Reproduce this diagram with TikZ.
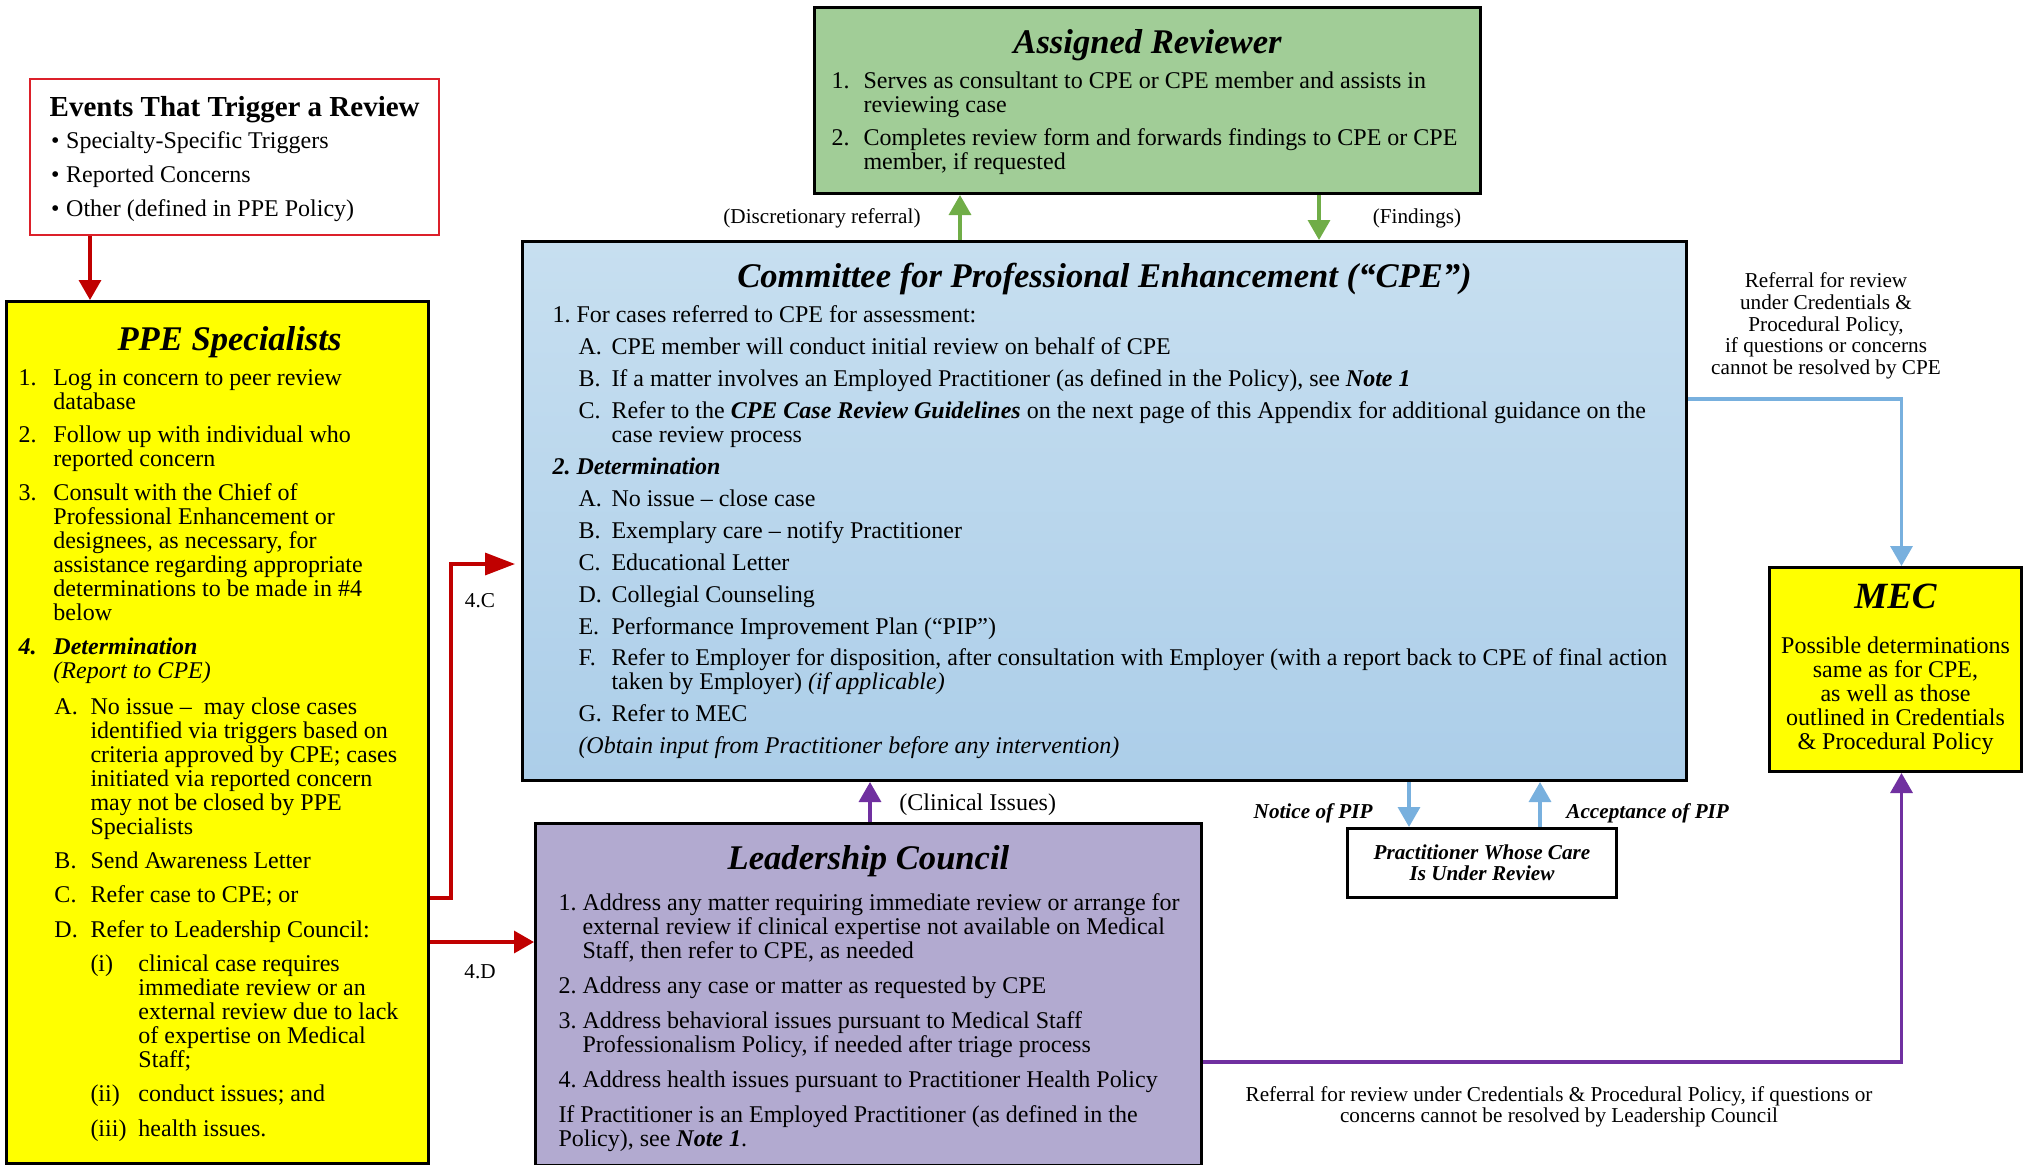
\documentclass[tikz,border=0pt]{standalone}
\usepackage{fontspec}
\setmainfont{Liberation Serif}
\usepackage{enumitem}
\usepackage{tikz}
\usetikzlibrary{arrows.meta}
\definecolor{ppeyellow}{RGB}{255,255,0}
\definecolor{revgreen}{RGB}{161,205,151}
\definecolor{cpetop}{RGB}{199,223,240}
\definecolor{cpebot}{RGB}{172,206,233}
\definecolor{lcpurple}{RGB}{178,170,208}
\definecolor{trigred}{RGB}{220,32,42}
\definecolor{arrred}{RGB}{192,0,0}
\definecolor{arrgreen}{RGB}{112,173,71}
\definecolor{arrblue}{RGB}{120,176,222}
\definecolor{arrpurple}{RGB}{112,48,160}
\newcommand{\bodyfont}{\fontsize{12}{12}\selectfont}
\newcommand{\smallfont}{\fontsize{10.6}{10.8}\selectfont}
\newcommand{\titlefont}{\fontsize{17.3}{18}\selectfont\bfseries\itshape}
\newcommand{\lineht}[1]{\rule{0pt}{#1}}
\newcommand{\bi}[1]{\textbf{\textit{#1}}}
\tikzstyle{panel} = [draw=black, line width=1.5pt, rectangle, inner sep=0pt, anchor=north west]
\tikzstyle{triggerbox} = [draw=trigred, line width=1.2pt, fill=white, rectangle, inner sep=0pt, anchor=north west]
\tikzstyle{flow} = [line width=1.7pt, -{Triangle[length=10pt,width=11pt]}]
\tikzstyle{lbl} = [font=\smallfont, inner sep=0pt, align=center]
\setlist{topsep=0pt, partopsep=0pt, parsep=0pt, labelsep=0pt, align=left}

\begin{document}
\begin{tikzpicture}[x=0.5pt,y=-0.5pt]
\useasboundingbox (0,0) rectangle (2023,1164);

                \node [triggerbox] (events) at (29,78) {%
                    \begin{minipage}[t][78pt][t]{204.5pt}\bodyfont\raggedright
                        {\centering\fontsize{14.5}{15}\selectfont\bfseries\lineht{18.8pt}Events That Trigger a Review\par}
                        \vspace{3.9pt}
                        \begin{itemize}[label=\textbullet, leftmargin=18pt, labelwidth=7.5pt, itemsep=5pt]
                            \item Specialty-Specific Triggers
                            \item Reported Concerns
                            \item Other (defined in PPE Policy)
                        \end{itemize}
                    \end{minipage}
                };

                \node [panel, fill=ppeyellow] (ppe) at (5,300) {%
                    \begin{minipage}[t][431pt][t]{211pt}\bodyfont\raggedright
                        {\centering\titlefont\hspace*{12pt}\lineht{24.7pt}PPE Specialists\par}
                        \vspace{5.2pt}
                        \begin{enumerate}[label=\arabic*., leftmargin=23.5pt, labelwidth=17.5pt, itemsep=4.8pt]
                            \item Log in concern to peer review\\ database
                            \item Follow up with individual who\\ reported concern
                            \item Consult with the Chief of\\ Professional Enhancement or\\ designees, as necessary, for\\ assistance regarding appropriate\\ determinations to be made in \#4\\ below
                            \item[\bi{4.}] \bi{Determination}\\ \textit{(Report to CPE)}
                            \begin{enumerate}[label=\Alph*., leftmargin=18.5pt, labelwidth=18pt, itemsep=5.2pt, topsep=6pt]
                                \item No issue --\ \ may close cases\\ identified via triggers based on\\ criteria approved by CPE; cases\\ initiated via reported concern\\ may not be closed by PPE\\ Specialists
                                \item Send Awareness Letter
                                \item Refer case to CPE; or
                                \item Refer to Leadership Council:
                                \begin{enumerate}[label=(\roman*), leftmargin=24pt, labelwidth=24pt, itemsep=5.3pt, topsep=5pt]
                                    \item clinical case requires\\ immediate review or an\\ external review due to lack\\ of expertise on Medical\\ Staff;
                                    \item conduct issues; and
                                    \item health issues.
                                \end{enumerate}
                            \end{enumerate}
                        \end{enumerate}
                    \end{minipage}
                };

                \node [panel, fill=revgreen] (ar) at (813,6) {%
                    \begin{minipage}[t][93pt][t]{333pt}\bodyfont\raggedright
                        {\centering\titlefont\lineht{23.2pt}Assigned Reviewer\par}
                        \vspace{4.5pt}
                        \begin{enumerate}[label=\arabic*., leftmargin=24.5pt, labelwidth=16pt, itemsep=4.3pt]
                            \item Serves as consultant to CPE or CPE member and assists in\\ reviewing case
                            \item Completes review form and forwards findings to CPE or CPE\\ member, if requested
                        \end{enumerate}
                    \end{minipage}
                };

                \node [panel, top color=cpetop, bottom color=cpebot] (cpe) at (521,240) {%
                    \begin{minipage}[t][269.5pt][t]{582pt}\bodyfont\raggedright
                        {\centering\titlefont\lineht{23.2pt}Committee for Professional Enhancement (“CPE”)\par}
                        \vspace{4.4pt}
                        \begin{enumerate}[label=\arabic*., leftmargin=27pt, labelwidth=12pt, itemsep=3.95pt]
                            \item For cases referred to CPE for assessment:
                            \begin{enumerate}[label=\Alph*., leftmargin=17.5pt, labelwidth=16.5pt, itemsep=3.95pt, topsep=3.95pt]
                                \item CPE member will conduct initial review on behalf of CPE
                                \item If a matter involves an Employed Practitioner (as defined in the Policy), see \bi{Note 1}
                                \item Refer to the \bi{CPE Case Review Guidelines} on the next page of this Appendix for additional guidance on the\\ case review process
                            \end{enumerate}
                            \item[\bi{2.}] \bi{Determination}
                            \begin{enumerate}[label=\Alph*., leftmargin=17.5pt, labelwidth=16.5pt, itemsep=3.95pt, topsep=3.95pt]
                                \item No issue -- close case
                                \item Exemplary care -- notify Practitioner
                                \item Educational Letter
                                \item Collegial Counseling
                                \item Performance Improvement Plan (“PIP”)
                                \item Refer to Employer for disposition, after consultation with Employer (with a report back to CPE of final action\\ taken by Employer) \textit{(if applicable)}
                                \item Refer to MEC
                            \end{enumerate}
                            \hspace*{1pt}\textit{(Obtain input from Practitioner before any intervention)}
                        \end{enumerate}
                    \end{minipage}
                };

                \node [panel, fill=lcpurple] (lc) at (534,822) {%
                    \begin{minipage}[t][171pt][t]{333pt}\bodyfont\raggedright
                        {\centering\titlefont\lineht{23.2pt}Leadership Council\par}
                        \vspace{7.4pt}
                        \begin{enumerate}[label=\arabic*., leftmargin=23.5pt, labelwidth=12pt, itemsep=5.5pt]
                            \item Address any matter requiring immediate review or arrange for\\ external review if clinical expertise not available on Medical\\ Staff, then refer to CPE, as needed
                            \item Address any case or matter as requested by CPE
                            \item Address behavioral issues pursuant to Medical Staff\\ Professionalism Policy, if needed after triage process
                            \item Address health issues pursuant to Practitioner Health Policy
                        \end{enumerate}
                        \vspace{5.5pt}
                        {\leftskip=11.5pt If Practitioner is an Employed Practitioner (as defined in the\\ Policy), see \bi{Note 1}.\par}
                    \end{minipage}
                };

                \node [panel, fill=ppeyellow] (mec) at (1768,566) {%
                    \begin{minipage}[t][102pt][t]{126pt}\bodyfont\centering
                        {\fontsize{18.5}{19}\selectfont\bfseries\itshape\lineht{20.7pt}MEC\par}
                        \vspace{10.3pt}
                        Possible determinations\\ same as for CPE,\\ as well as those\\ outlined in Credentials\\ \& Procedural Policy
                    \end{minipage}
                };

                \node [draw=black, line width=1.5pt, fill=white, anchor=north west, inner sep=0pt,
                    minimum width=134.5pt, minimum height=34.5pt, align=center,
                    font=\fontsize{10.6}{10.6}\selectfont\bfseries\itshape] (prac) at (1346,827)
                    {Practitioner Whose Care\\ Is Under Review};

                \node [lbl] (discl) at (822,218) {(Discretionary referral)};
                \node [lbl] (findl) at (1417,218) {(Findings)};
                \node [lbl] (c4l) at (480,601) {4.C};
                \node [lbl] (d4l) at (480,972) {4.D};
                \node [lbl, font=\bodyfont, anchor=west] (clinl) at (899,805) {(Clinical Issues)};
                \node [lbl, font=\smallfont\bfseries\itshape, anchor=east] (notl) at (1373,813) {Notice of PIP};
                \node [lbl, font=\smallfont\bfseries\itshape, anchor=west] (accl) at (1566,813) {Acceptance of PIP};
                \node [lbl] (mecl) at (1826,326) {Referral for review\\ under Credentials \&\\ Procedural Policy,\\ if questions or concerns\\ cannot be resolved by CPE};
                \node [lbl] (lcl) at (1559,1107) {Referral for review under Credentials \& Procedural Policy, if questions or\\ concerns cannot be resolved by Leadership Council};

                \coordinate (ev1) at ([xshift=30.5pt]events.south west);
                \draw [flow, arrred] (ev1) -- (ev1 |- ppe.north);
                \coordinate (c4) at ([yshift=-299pt]ppe.north east);
                \coordinate (c4t) at ([yshift=-162pt]cpe.north west);
                \draw [flow, arrred, -{Triangle[length=15pt,width=11pt]}, shorten >=3pt] (c4) -- ++(21,0) |- (c4t);
                \coordinate (d4) at ([yshift=-321pt]ppe.north east);
                \draw [flow, arrred] (d4) -- (d4 -| lc.west);

                \coordinate (g1) at ([xshift=219.5pt]cpe.north west);
                \coordinate (g2) at ([xshift=399pt]cpe.north west);
                \draw [flow, arrgreen] (g1) -- (g1 |- ar.south);
                \draw [flow, arrgreen] (g2 |- ar.south) -- (g2);

                \coordinate (p1) at ([xshift=168pt]lc.north west);
                \draw [flow, arrpurple] (p1) -- (p1 |- cpe.south);
                \coordinate (p2) at ([yshift=-120pt]lc.north east);
                \draw [flow, arrpurple] (p2) -| ([xshift=3pt]mec.south);

                \coordinate (b1) at ([yshift=-79.5pt]cpe.north east);
                \draw [flow, arrblue] (b1) -| ([xshift=3pt]mec.north);
                \coordinate (n1) at ([xshift=31.5pt]prac.north west);
                \coordinate (n2) at ([xshift=97pt]prac.north west);
                \draw [flow, arrblue] (n1 |- cpe.south) -- (n1);
                \draw [flow, arrblue] (n2) -- (n2 |- cpe.south);
            \end{tikzpicture}
\end{document}
